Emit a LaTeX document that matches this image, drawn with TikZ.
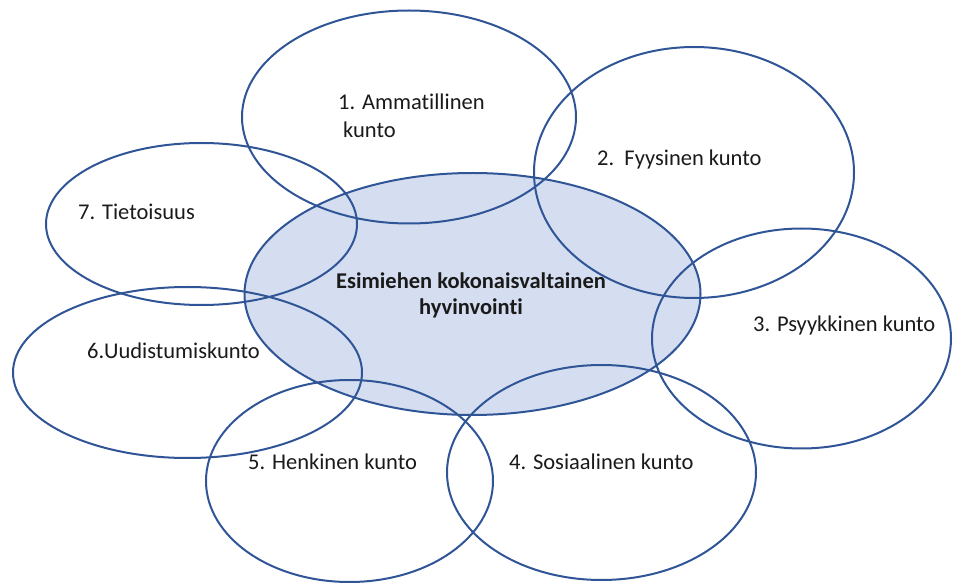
\documentclass[tikz,border=0pt]{standalone}
\usepackage{fontspec}
\setmainfont[RawFeature={-liga;-clig;-calt;-dlig;-rlig;-hlig}]{Carlito}
\definecolor{linec}{HTML}{2F5597}
\definecolor{fillc}{HTML}{D5DDF0}
\definecolor{textc}{HTML}{1A1A1A}
\begin{document}
\begin{tikzpicture}[x=1pt,y=-1pt,
  ring/.style={draw=linec,line width=2pt},
  hub/.style={ring,fill=fillc},
  lbl/.style={anchor=base west,inner sep=0pt,text=textc,font=\fontsize{22.5}{27}\selectfont},
  hublbl/.style={anchor=base,inner sep=0pt,text=textc,font=\fontsize{22.5}{27}\selectfont\bfseries}]
\useasboundingbox (0,0) rectangle (954,585);
% centre
\draw[hub] (472.5,294) ellipse [x radius=228pt, y radius=121pt];
% surrounding rings
\draw[ring] (409,117) ellipse [x radius=167pt, y radius=106.5pt];
\draw[ring] (694,172.5) ellipse [x radius=160pt, y radius=125.5pt];
\draw[ring] (801.5,338.5) ellipse [x radius=149.5pt, y radius=110pt];
\draw[ring] (601.5,472.5) ellipse [x radius=154.5pt, y radius=107.5pt];
\draw[ring] (349.5,481) ellipse [x radius=143.5pt, y radius=101pt];
\draw[ring] (187.5,372.5) ellipse [x radius=174.5pt, y radius=85.5pt];
\draw[ring] (201.5,224) ellipse [x radius=155.5pt, y radius=81pt];
% labels
\node[hublbl] (h1) at (471,289) {Esimiehen kokonaisvaltainen};
\node[hublbl] (h2) at (471,315) {hyvinvointi};
\node[lbl] (t1a) at (338,110) {1. Ammatillinen};
\node[lbl] (t1b) at (343,138) {kunto};
\node[lbl] (t2) at (597,166) {2.\ \ Fyysinen kunto};
\node[lbl] (t3) at (753,332) {3. Psyykkinen kunto};
\node[lbl] (t4) at (509,470) {4. Sosiaalinen kunto};
\node[lbl] (t5) at (248,470) {5. Henkinen kunto};
\node[lbl] (t6) at (87,359) {6.Uudistumiskunto};
\node[lbl] (t7) at (78,220) {7. Tietoisuus};
\end{tikzpicture}
\end{document}
